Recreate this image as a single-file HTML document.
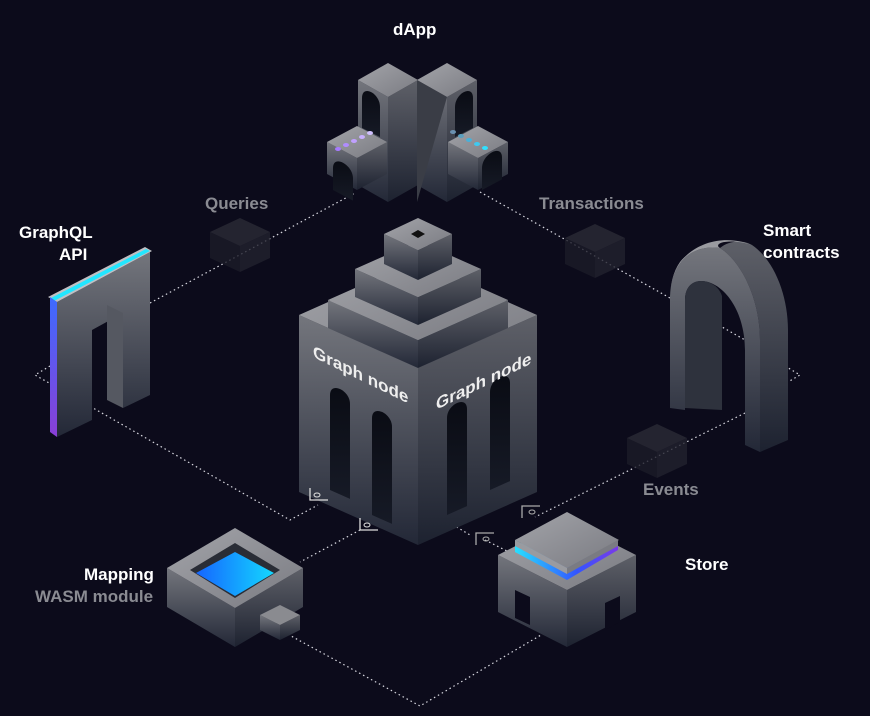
<!DOCTYPE html>
<html><head><meta charset="utf-8"><style>
html,body{margin:0;padding:0;background:#0c0b1b;}
svg{display:block}
text{font-family:"Liberation Sans",sans-serif;font-weight:bold}
</style></head><body>
<svg id="s" width="870" height="716" viewBox="0 0 870 716" xmlns="http://www.w3.org/2000/svg">
<defs>
<linearGradient id="gl" x1="0" y1="0" x2="0" y2="1"><stop offset="0" stop-color="#74767d"/><stop offset="1" stop-color="#232837"/></linearGradient>
<linearGradient id="gr" x1="0" y1="0" x2="0" y2="1"><stop offset="0" stop-color="#5e6068"/><stop offset="1" stop-color="#1d2230"/></linearGradient>
<linearGradient id="gt" x1="0" y1="0" x2="1" y2="1"><stop offset="0" stop-color="#a3a4a9"/><stop offset="1" stop-color="#7a7b82"/></linearGradient>
<linearGradient id="arch" x1="0" y1="0" x2="0" y2="1"><stop offset="0" stop-color="#0a0c14"/><stop offset="1" stop-color="#161a26"/></linearGradient>
<linearGradient id="strip" x1="0" y1="0" x2="0" y2="1"><stop offset="0" stop-color="#3d6bff"/><stop offset="1" stop-color="#8a3fd6"/></linearGradient>
<linearGradient id="blue" x1="0" y1="0" x2="1" y2="0"><stop offset="0" stop-color="#1565ff"/><stop offset="1" stop-color="#14d8ff"/></linearGradient>
<linearGradient id="sc" x1="0" y1="0" x2="1" y2="0"><stop offset="0" stop-color="#28e0ff"/><stop offset="0.6" stop-color="#3355ff"/><stop offset="1" stop-color="#7a3ae8"/></linearGradient>
<linearGradient id="sct" x1="0" y1="0" x2="1" y2="0"><stop offset="0" stop-color="#8e9096"/><stop offset="1" stop-color="#b5b6ba"/></linearGradient>
</defs>
<g id="lines" fill="none" stroke="#d8d8e0" stroke-width="1.2" stroke-dasharray="1.5 3">
<polyline points="150,303 355,193"/>
<polyline points="480,192 670,298"/>
<polyline points="50,366 35,375 290,520 318,505"/>
<polyline points="785,366 800,375 788,382"/>
<polyline points="745,413 535,517"/>
<polyline points="715,323 745,340"/>
<polyline points="360,530 300,562"/>
<polyline points="445,520 470,535"/>
<polyline points="485,540 525,560"/>
<polyline points="280,630 420,706 570,618"/>
</g>
<g id="g"></g>
<g fill="#fff" font-size="17">
<text x="393" y="35">dApp</text>
<text x="19" y="238">GraphQL</text>
<text x="59" y="260">API</text>
<text x="763" y="236">Smart</text>
<text x="763" y="258">contracts</text>
<text x="685" y="570">Store</text>
<text x="84" y="580">Mapping</text>
<text x="35" y="602" fill="#8a8b92">WASM module</text>
<text x="205" y="209" fill="#8a8b92">Queries</text>
<text x="539" y="209" fill="#8a8b92">Transactions</text>
<text x="643" y="495" fill="#8a8b92">Events</text>
</g>
<g fill="#eee" font-size="17">
<text transform="translate(313,357) skewY(26)">Graph node</text>
<text transform="translate(436,410) skewY(-26)">Graph node</text>
</g>
</svg>
<script>
var g=document.getElementById('g'),NS="http://www.w3.org/2000/svg";
function el(t,a){var e=document.createElementNS(NS,t);for(var k in a)e.setAttribute(k,a[k]);g.appendChild(e);return e;}
function P(pts,f,extra){var a={points:pts.map(function(p){return p.join(',')}).join(' '),fill:f};for(var k in extra)a[k]=extra[k];return el('polygon',a);}
function box(cx,fy,hw,vh,h,tf,lf,rf,op){var o=op?{opacity:op}:{};
P([[cx-hw,fy-vh],[cx,fy],[cx,fy+h],[cx-hw,fy-vh+h]],lf||'url(#gl)',o);
P([[cx+hw,fy-vh],[cx,fy],[cx,fy+h],[cx+hw,fy-vh+h]],rf||'url(#gr)',o);
P([[cx-hw,fy-vh],[cx,fy-2*vh],[cx+hw,fy-vh],[cx,fy]],tf||'url(#gt)',o);}
function archL(x1,x2,t1,b,s){var t2=t1+(x2-x1)*s;el('path',{d:'M'+x1+','+(b)+' V'+t1+' C'+x1+','+(t1-14)+' '+x2+','+(t2-14)+' '+x2+','+t2+' V'+(b+(x2-x1)*s)+' Z',fill:'url(#arch)'});}
// ghost cubes
box(240,246,30,14,26,'#2a2a36','#1c1c28','#22222e',0.8);
box(595,252,30,14,26,'#2a2a36','#1c1c28','#22222e',0.8);
box(657,452,30,14,26,'#2a2a36','#1c1c28','#22222e',0.8);
// dApp
box(388,97,30,17,105);
box(447,97,30,17,105);
P([[417,80],[447,97],[417,202]],'#3a3d46');
archL(362,380,98,128,0.5);archL(455,473,107,137,-0.5);
box(357,158,30,16,32);
box(478,158,30,16,32);
archL(333,353,168,190,0.53);archL(482,502,168,190,-0.53);
[[338,149,'#a77bff'],[346,145,'#b08cff'],[354,141,'#c0a0ff'],[362,137,'#c8b0ff'],[370,133,'#d0c0ff']].forEach(function(c){el('ellipse',{cx:c[0],cy:c[1],rx:3,ry:2,fill:c[2]});});
[[485,148,'#30e0ff'],[477,144,'#40c8ee'],[469,140,'#4ab0d8'],[461,136,'#5aa0c0'],[453,132,'#6a90b0']].forEach(function(c){el('ellipse',{cx:c[0],cy:c[1],rx:3,ry:2,fill:c[2]});});
// main building
box(418,368,119,53,177);
archL(330,350,395,490,0.445);archL(372,392,418,515,0.445);
archL(447,467,418,515,-0.445);archL(490,510,392,490,-0.445);
box(418,340,90,40,28);
box(418,297,63,28,28);
box(418,250,34,16,30);
P([[411,234],[418,230],[425,234],[418,238]],'#111');
// small icons
[[310,500],[360,530]].forEach(function(p){el('path',{d:'M'+p[0]+','+(p[1]-12)+' V'+p[1]+' H'+(p[0]+18),stroke:'#ddd',fill:'none','stroke-width':1.3});el('ellipse',{cx:p[0]+7,cy:p[1]-5,rx:3,ry:2,stroke:'#ddd',fill:'none'});});
[[522,518],[476,545]].forEach(function(p){el('path',{d:'M'+p[0]+','+(p[1])+' V'+(p[1]-12)+' H'+(p[0]+18),stroke:'#aaa',fill:'none','stroke-width':1.3});el('ellipse',{cx:p[0]+10,cy:p[1]-6,rx:3,ry:2,stroke:'#aaa',fill:'none'});});
// GraphQL arch
P([[57,302],[150,252],[150,395],[123,408],[123,313],[92,330],[92,420],[57,437]],'url(#gl)');
P([[107,305],[123,313],[123,408],[107,400]],'#555861');
P([[48,297],[145,247],[152,251],[57,302]],'#bfc0c4');
P([[51,298],[146,249],[150,251],[54,301]],'#22e6ff');
P([[50,297],[57,302],[57,437],[50,432]],'url(#strip)');
// Smart contracts arch
el('path',{d:'M720,248 C728,241 742,239 752,245 C774,260 788,295 788,330 V440 L760,452 V340 C760,300 742,262 720,248 Z',fill:'url(#gr)'});
el('path',{d:'M670,408 V300 C670,262 692,244 720,248 C742,262 760,300 760,340 V452 L745,445 V350 C745,315 728,288 708,282 C694,278 685,286 685,300 V410 Z',fill:'url(#gl)'});
el('path',{d:'M685,300 C685,286 694,278 708,282 C716,285 720,290 722,296 V410 L685,408 Z',fill:'#2e323d'});
el('path',{d:'M670,300 C670,262 692,244 720,248 C712,243 730,238 752,245 C730,236 700,238 680,262 C673,272 670,285 670,300Z',fill:'#9a9ba0'});
// Mapping
box(235,608,68,40,39);
P([[190,570],[235,543],[280,570],[235,598]],'#2a2d36');
P([[196,573],[235,552],[274,573],[235,596]],'url(#blue)');
box(280,625,20,10,15,'#8a8b90');
// Store
box(567,590,69,35,57);
P([[515,590],[530,597],[530,625],[515,618]],'#0c0b1b');
P([[605,603],[620,596],[620,622],[605,630]],'#0c0b1b');
P([[515,540],[567,568],[618,540],[618,550],[567,580],[515,552]],'url(#sc)');
box(567,568,52,28,0,'url(#gt)');
P([[515,540],[567,568],[567,574],[515,546]],'#9a9ba0');
P([[618,540],[567,568],[567,574],[618,546]],'#7a7b82');
</script>
</body></html>
